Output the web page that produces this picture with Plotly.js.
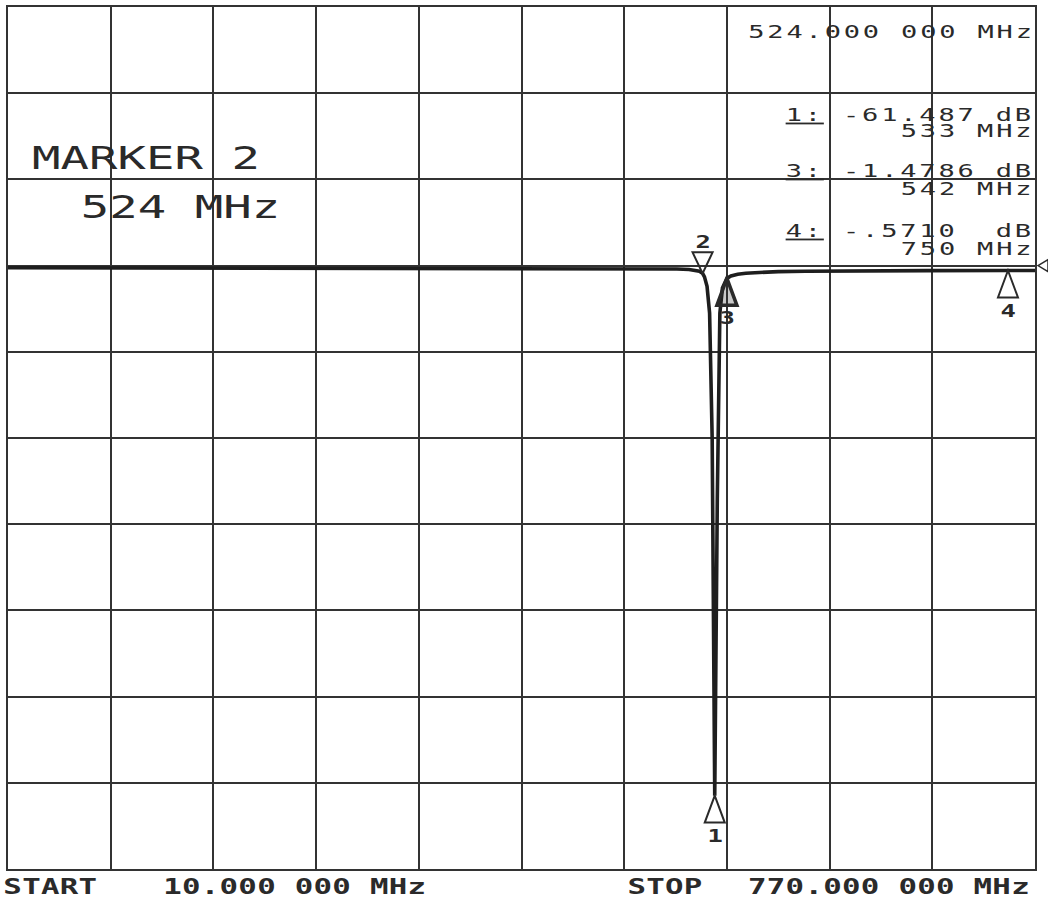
<!DOCTYPE html>
<html>
<head>
<meta charset="utf-8">
<script src="https://cdn.plot.ly/plotly-3.0.1.min.js"></script>
<style>
  html, body { margin: 0; padding: 0; background: #ffffff; }
  #chart { width: 1048px; height: 907px; }
  /* plotter lettering is much wider than ordinary type: stretch horizontally */
  #chart .annotation-text {
    transform: scaleX(1.5);
    transform-box: fill-box;
    transform-origin: center;
  }
</style>
</head>
<body>
<div id="chart"></div>
<script>
// ---- Data ----
// Sweep: START 10 MHz, STOP 770 MHz; 10 dB/div, reference 0 dB
const freqMHz = [10, 48, 86, 124, 162, 200, 238, 276, 314, 352, 390, 428, 466, 490, 505, 514, 519,
                 521.6, 524, 525.4, 527.3, 529.2, 531.1, 533, 534.9, 536.8, 538.7, 540.6, 542,
                 545, 550, 556, 565, 580, 600, 640, 690, 750, 770];
const s21dB   = [-0.25, -0.26, -0.27, -0.27, -0.28, -0.28, -0.29, -0.30, -0.30, -0.30, -0.31, -0.32, -0.33, -0.36, -0.40, -0.45, -0.55,
                 -0.65, -0.90, -1.30, -2.40, -5.50, -20.0, -61.487, -27.0, -5.50, -2.60, -1.80, -1.4786,
                 -1.20, -1.00, -0.88, -0.78, -0.70, -0.65, -0.60, -0.58, -0.571, -0.565];

const markerNum  = ['1', '2', '3', '4'];
const markerFreq = [533, 524, 542, 750];
const markerDb   = [-61.487, -0.90, -1.4786, -0.571];
const markerDir  = ['up', 'down', 'up', 'up'];

const activeMarkerLines = ['MARKER 2', '524 MHz'];
const activeFreqText = '524.000 000 MHz';
const readoutIds   = ['1:', '3:', '4:'];
const readoutVals  = ['-61.487 dB', '-1.4786 dB', '-.5710  dB'];
const readoutFreqs = ['533 MHz', '542 MHz', '750 MHz'];
const startText = ['START', '10.000 000 MHz'];
const stopText  = ['STOP', '770.000 000 MHz'];

const xRange = [10, 770];
const yRange = [-70, 30];

// ---- Layout helpers ----
const W = 1048, H = 907;
const M = {l: 8, r: 13, t: 7, b: 38};
const PW = W - M.l - M.r, PH = H - M.t - M.b;
const px = x => (x - M.l) / PW;
const py = y => (H - M.b - y) / PH;
const ink = '#2a2a2a';
const MONO = 'DejaVu Sans Mono, Liberation Mono, monospace';
const SCALE = 1.5;                       // matches the CSS scaleX above
const nb = s => s.replace(/ /g, '\u00a0');
// letter spacing (pre-scale) so that each character cell has the given pitch on screen
const sp = (size, pitch) => Math.max(0, pitch / SCALE - 0.602 * size);
const spaced = (s, size, pitch, extra) =>
  '<span style="letter-spacing:' + sp(size, pitch).toFixed(2) + 'px' + (extra || '') + '">' + nb(s) + '</span>';

const annotations = [];
function addText(text, cx, cy, size, bold) {
  annotations.push({
    xref: 'paper', yref: 'paper', x: px(cx), y: py(cy), text: text,
    showarrow: false, xanchor: 'center', yanchor: 'middle',
    font: {family: MONO, size: size, color: ink, weight: bold ? 'bold' : 'normal'}
  });
}
// centre of a run of n character cells that ends at right edge R
const cRight = (R, n, pitch) => R - n * pitch / 2 + 2.5;

// top-right readouts
const rs = 18, rp = 19.1, R = 1032;
addText(spaced(activeFreqText, rs, rp), cRight(R, activeFreqText.length, rp), 31, rs);
const readY = [[115, 130], [170, 189], [230, 249]];
readoutIds.forEach((id, i) => {
  const line = id + ' ' + readoutVals[i];
  addText(spaced(id, rs, rp, ';text-decoration:underline') + spaced(' ' + readoutVals[i], rs, rp),
          cRight(R, line.length, rp), readY[i][0], rs);
  addText(spaced(readoutFreqs[i], rs, rp), cRight(R, readoutFreqs[i].length, rp), readY[i][1], rs);
});

// active marker block
addText(spaced(activeMarkerLines[0], 31.5, 28.5), 146, 158, 31.5);
addText(spaced(activeMarkerLines[1], 31.5, 28.5), 180, 207, 31.5);

// start / stop
addText(spaced(startText[0], 20.5, 18.8), 50, 887, 20.5, true);
addText(spaced(startText[1], 20.5, 18.8), 294, 887, 20.5, true);
addText(spaced(stopText[0], 20.5, 18.8), 665, 887, 20.5, true);
addText(spaced(stopText[1], 20.5, 18.8), 889, 887, 20.5, true);

// marker labels and triangles
const shapes = [];
markerNum.forEach((n, i) => {
  const up = markerDir[i] === 'up';
  annotations.push({
    xref: 'x', yref: 'y', x: markerFreq[i], y: markerDb[i], text: n,
    showarrow: false, xanchor: 'center', yanchor: 'middle',
    yshift: up ? -40 : 31,
    font: {family: MONO, size: 17, color: ink, weight: 'bold'}
  });
  shapes.push({
    type: 'path', xref: 'x', yref: 'y',
    xsizemode: 'pixel', ysizemode: 'pixel',
    xanchor: markerFreq[i], yanchor: markerDb[i],
    path: up ? 'M0,0 L-10,-27 L10,-27 Z' : 'M0,0 L-10,21 L10,21 Z',
    line: {color: ink, width: n === '3' ? 3.5 : 2},
    fillcolor: n === '3' ? 'rgba(40,40,40,0.25)' : 'rgba(255,255,255,0)'
  });
});

// reference-level pointer on right edge
shapes.push({
  type: 'path', xref: 'paper', yref: 'y',
  xsizemode: 'pixel', ysizemode: 'pixel', xanchor: 1, yanchor: 0,
  path: 'M3,0 L13,6 L13,-6 Z',
  line: {color: ink, width: 1.5}, fillcolor: 'rgba(255,255,255,0)'
});

const trace = {
  x: freqMHz, y: s21dB, type: 'scatter', mode: 'lines',
  line: {color: '#1e1e1e', width: 3.6},
  hoverinfo: 'skip', showlegend: false
};

const axisCommon = {
  showgrid: true, gridcolor: '#333333', gridwidth: 2,
  showticklabels: false, ticks: '', zeroline: false,
  showline: true, linecolor: '#333333', linewidth: 2, mirror: true,
  fixedrange: true
};

const layout = {
  width: W, height: H,
  margin: {l: M.l, r: M.r, t: M.t, b: M.b, pad: 0},
  paper_bgcolor: '#ffffff', plot_bgcolor: '#ffffff',
  showlegend: false,
  xaxis: Object.assign({}, axisCommon, {range: xRange, tick0: 10, dtick: 76}),
  yaxis: Object.assign({}, axisCommon, {range: yRange, tick0: 0, dtick: 10}),
  annotations: annotations,
  shapes: shapes
};

Plotly.newPlot('chart', [trace], layout, {staticPlot: true, displayModeBar: false});
</script>
</body>
</html>
